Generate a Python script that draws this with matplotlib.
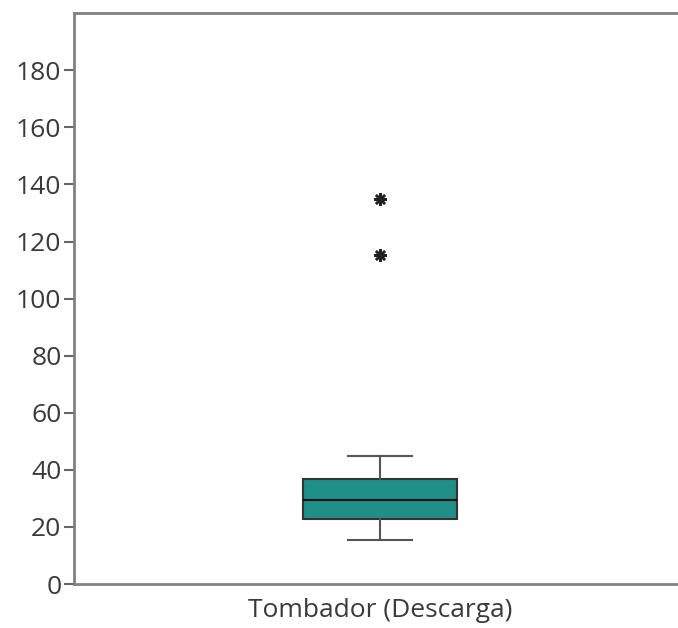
import matplotlib.pyplot as plt

# dados
categorias = ["Tombador (Descarga)"]
minimo = [15.4]
q1 = [22.8]
mediana = [29.5]
q3 = [36.8]
maximo = [44.9]
outliers = [[115.4, 135.0]]
yticks = [0, 20, 40, 60, 80, 100, 120, 140, 160, 180]

plt.rcParams['font.family'] = ['Open Sans', 'DejaVu Sans']

fig = plt.figure(figsize=(6.78, 6.28), dpi=100)
ax = fig.add_axes([0.109, 0.070, 0.903, 0.909])

stats = []
for i, nome in enumerate(categorias):
    stats.append({'label': nome, 'whislo': minimo[i], 'q1': q1[i], 'med': mediana[i],
                  'q3': q3[i], 'whishi': maximo[i], 'fliers': outliers[i]})

ax.bxp(stats, positions=[1], widths=0.253, capwidths=0.103, patch_artist=True,
       boxprops=dict(facecolor='#1f8f87', edgecolor='#333333', linewidth=1.5),
       medianprops=dict(color='#111111', linewidth=1.5),
       whiskerprops=dict(color='#555555', linewidth=1.5),
       capprops=dict(color='#555555', linewidth=1.5),
       flierprops=dict(marker=(8, 2, 0), markersize=9, markeredgecolor='#222222',
                       markeredgewidth=1.8, linestyle='none'))

ax.set_xlim(0.5, 1.5)
ax.set_ylim(0, 200)
ax.set_yticks(yticks)
ax.tick_params(axis='y', labelsize=19, labelcolor='#3a3a3a', color='#666666', length=7, width=1.5, pad=2)
ax.tick_params(axis='x', labelsize=19, labelcolor='#3a3a3a', length=0, pad=10)

for s in ['left', 'bottom', 'top']:
    ax.spines[s].set_color('#808080')
    ax.spines[s].set_linewidth(2)
ax.spines['right'].set_visible(False)

fig.savefig('out.png', dpi=100)
